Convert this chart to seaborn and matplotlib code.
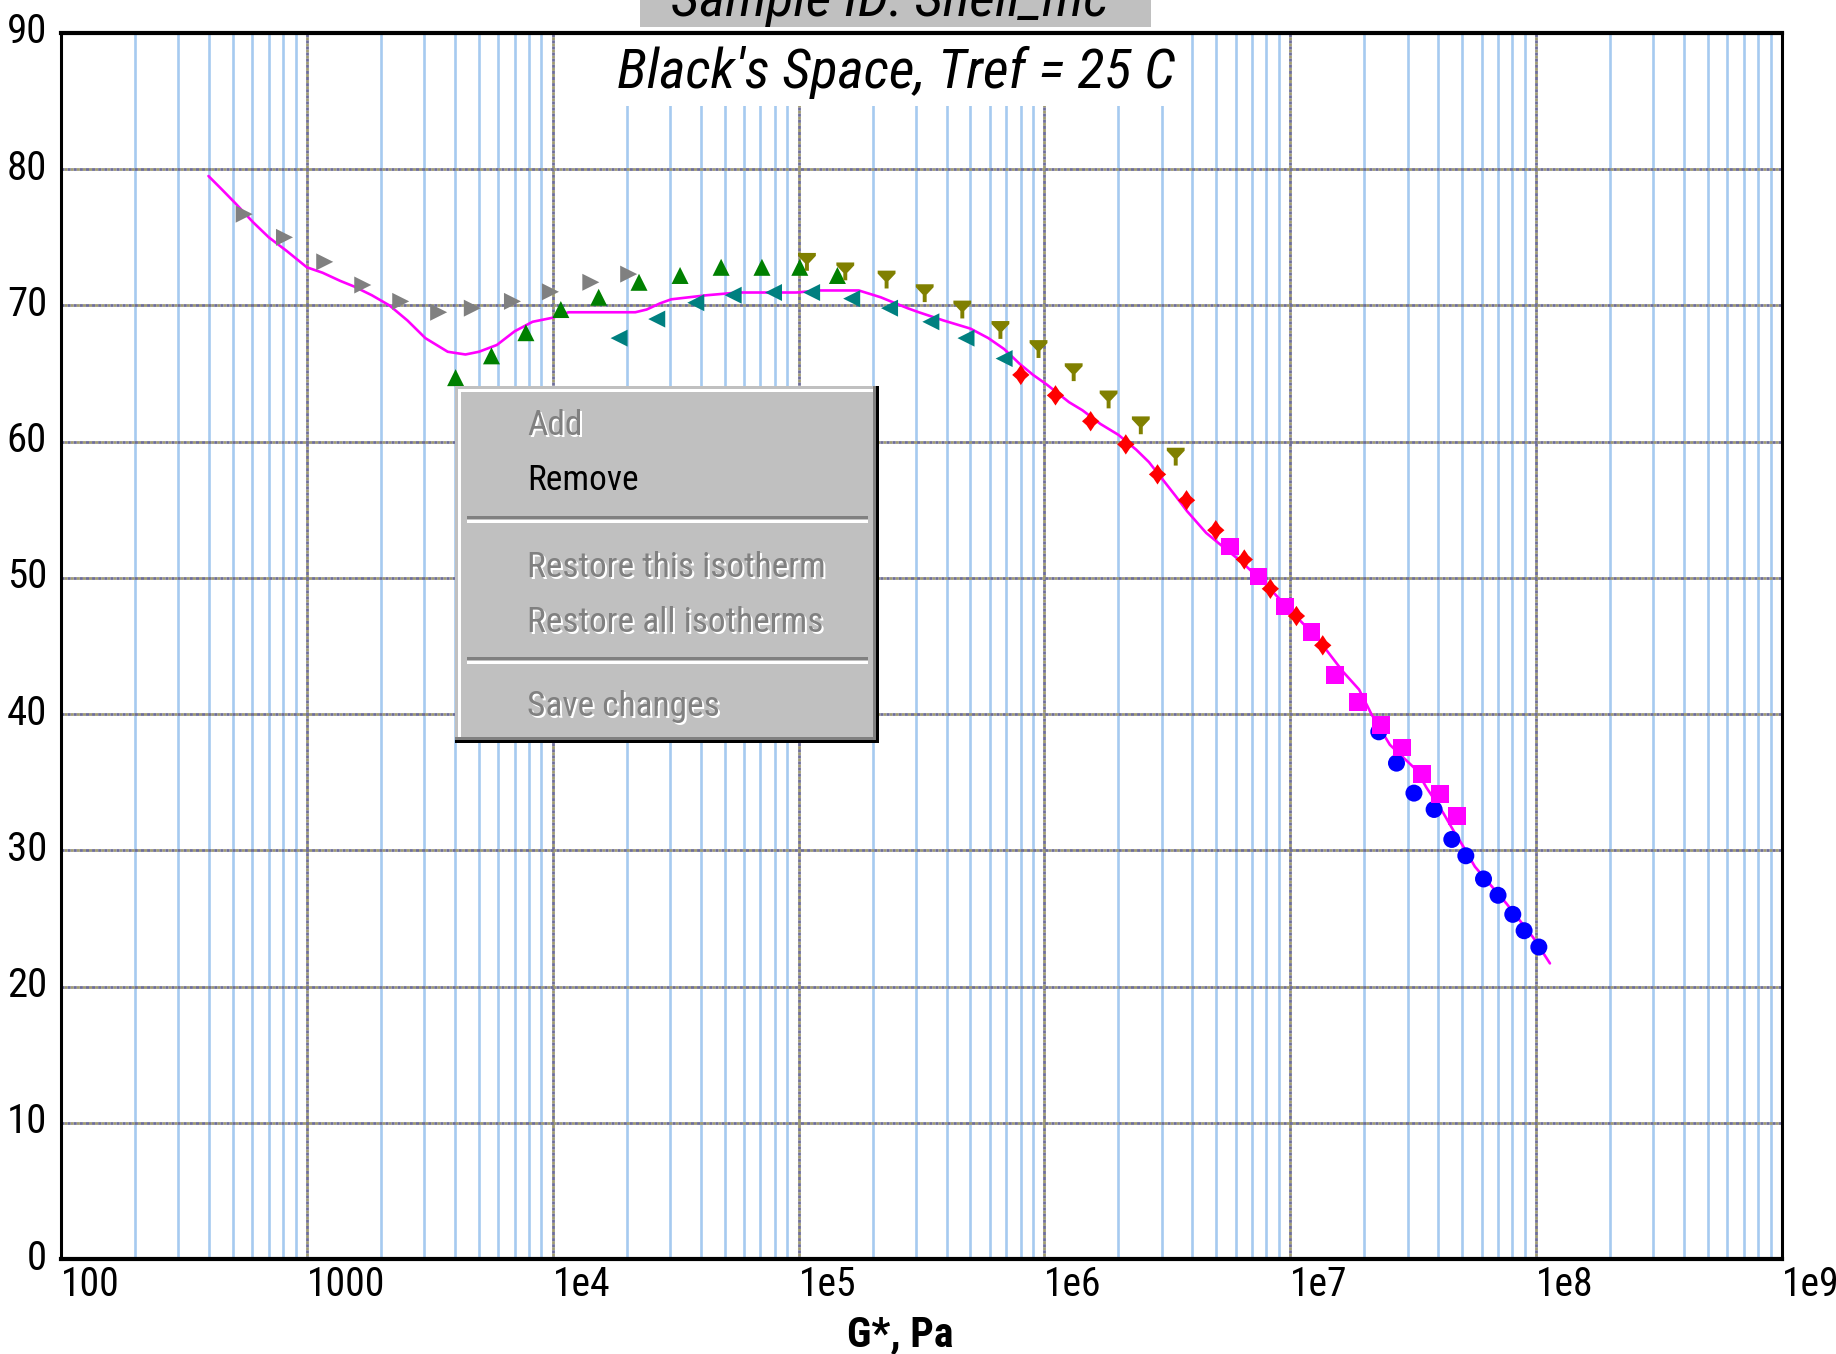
import os
import numpy as np
import pandas as pd
import matplotlib
matplotlib.use("Agg")
import matplotlib.pyplot as plt
from matplotlib import font_manager as fm
from matplotlib.font_manager import FontProperties
from matplotlib.patches import Rectangle
from matplotlib.markers import MarkerStyle
from matplotlib.ticker import LogLocator, NullFormatter
from matplotlib.transforms import ScaledTranslation
import seaborn as sns

# ---------------- data: complex modulus G* (Pa) vs phase angle (deg) ----------------
iso1_g = [556, 811, 1182, 1688, 2409, 3436, 4710, 6860, 9790, 14290, 20370]
iso1_phase = [76.7, 75.0, 73.2, 71.5, 70.3, 69.5, 69.8, 70.3, 71.0, 71.7, 72.3]

iso2_g = [4027, 5636, 7780, 10790, 15380, 22440, 32960, 48420, 70960, 101150, 143880]
iso2_phase = [64.7, 66.3, 68.0, 69.7, 70.6, 71.7, 72.2, 72.8, 72.8, 72.8, 72.2]

iso3_g = [18620, 26490, 38190, 54200, 79070, 112980, 164440, 234420, 345140, 479730, 685490]
iso3_phase = [67.6, 69.0, 70.2, 70.75, 70.95, 70.95, 70.5, 69.8, 68.8, 67.6, 66.1]

iso4_g = [108140, 154880, 228030, 325840, 463450, 662210, 946240, 1315200, 1823900, 2466000, 3419800]
iso4_phase = [73.2, 72.5, 71.9, 70.9, 69.7, 68.2, 66.8, 65.1, 63.1, 61.2, 58.9]

iso5_g = [801700, 1109200, 1541700, 2142900, 2884000, 3784400, 4977400, 6501300, 8298000, 10593000, 13552000]
iso5_phase = [64.9, 63.4, 61.5, 59.8, 57.6, 55.7, 53.5, 51.35, 49.2, 47.2, 45.05]

iso6_g = [5.675e6, 7.43e6, 9.484e6, 1.219e7, 1.524e7, 1.888e7, 2.344e7, 2.851e7, 3.436e7, 4.055e7, 4.775e7]
iso6_phase = [52.3, 50.1, 47.9, 46.0, 42.9, 40.9, 39.2, 37.55, 35.6, 34.15, 32.5]

iso7_g = [2.291e7, 2.704e7, 3.184e7, 3.846e7, 4.539e7, 5.176e7, 6.109e7, 6.998e7, 8.035e7, 8.933e7, 1.0257e8]
iso7_phase = [38.7, 36.4, 34.2, 33.0, 30.8, 29.6, 27.9, 26.7, 25.3, 24.1, 22.9]

master_g = [398, 452, 512, 605, 700, 828, 1000, 1159, 1368, 1552,
            1837, 2168, 2564, 3034, 3741, 4416, 5012, 5929, 6998, 8279,
            10000, 11590, 21680, 24100, 27290, 30340, 42360, 56890, 97950, 120800,
            175800, 215800, 277300, 308300, 388200, 500000, 591600, 685500, 794300, 899500,
            1.021e6, 1.259e6, 1.429e6, 1.690e6, 2.000e6, 2.366e6, 2.661e6, 3.126e6, 3.420e6, 3.802e6,
            4.550e6, 5.070e6, 6.310e6, 8.072e6, 1.038e7, 1.285e7, 1.641e7, 1.905e7, 2.138e7, 2.541e7,
            3.258e7, 3.581e7, 4.188e7, 4.592e7, 5.047e7, 5.636e7, 7.568e7, 9.727e7, 1.138e8]
master_phase = [79.5, 78.5, 77.5, 76.1, 75.0, 74.0, 72.8, 72.4, 71.8, 71.4,
                70.75, 70.0, 68.9, 67.6, 66.6, 66.4, 66.6, 67.1, 68.1, 68.8,
                69.1, 69.5, 69.5, 69.7, 70.15, 70.45, 70.75, 70.95, 70.95, 71.1,
                71.1, 70.6, 69.8, 69.5, 68.9, 68.3, 67.6, 66.8, 65.7, 64.9,
                64.2, 62.9, 62.3, 61.3, 60.5, 59.4, 58.5, 56.9, 56.0, 54.9,
                53.3, 52.6, 51.2, 49.4, 47.3, 45.6, 43.1, 41.8, 40.0, 37.75,
                35.9, 34.6, 32.75, 31.5, 30.3, 28.8, 26.1, 23.6, 21.7]

x_ticks = [1e2, 1e3, 1e4, 1e5, 1e6, 1e7, 1e8, 1e9]
x_tick_labels = ["100", "1000", "1e4", "1e5", "1e6", "1e7", "1e8", "1e9"]
y_ticks = [0, 10, 20, 30, 40, 50, 60, 70, 80, 90]

title_text = "Black's Space, Tref = 25 C"
sample_text = "Sample ID: Shell_mc"
x_label = "G*, Pa"
menu_items = ["Add", "Remove", "Restore this isotherm", "Restore all isotherms", "Save changes"]
menu_enabled = [False, True, False, False, False]

# ---------------- style ----------------
sns.set_style("white")
plt.rcParams["font.family"] = ["DejaVu Sans"]
for key in ("text.color", "axes.labelcolor", "xtick.color", "ytick.color"):
    plt.rcParams[key] = "black"


def _file_key(entry):
    return os.path.basename(entry.fname).lower().replace("-", "").replace("_", "").replace(" ", "")


def _weight(entry):
    w = entry.weight
    return w if isinstance(w, (int, float)) else fm.weight_dict.get(w, 400)


def condensed_faces():
    """Find a narrow sans-serif family (regular, italic, bold files) among installed fonts."""
    tiers = ["narrow", "extracondensed", "condensed", "semicondensed"]
    prefixes = ["liberationsans", "notosans", "roboto", "opensans", "dejavusans", "lato", "inter"]
    entries = fm.fontManager.ttflist
    for tier in tiers:
        for prefix in prefixes:
            pool = [e for e in entries
                    if _file_key(e).startswith(prefix + tier)
                    and _file_key(e).endswith((".ttf", ".otf"))]
            if tier == "condensed":
                pool = [e for e in pool if not _file_key(e).startswith(prefix + "condensedsemi")]
            if not pool:
                continue
            upright = [e for e in pool if e.style == "normal"]
            slanted = [e for e in pool if e.style in ("italic", "oblique")]
            if not upright:
                continue
            reg = min(upright, key=lambda e: abs(_weight(e) - 400))
            bold = min(upright, key=lambda e: abs(_weight(e) - 700))
            ital = min(slanted, key=lambda e: abs(_weight(e) - 400)) if slanted else reg
            return {"regular": reg.fname, "bold": bold.fname, "italic": ital.fname}
    return None


faces = condensed_faces()


def font(kind):
    if faces is not None:
        return FontProperties(fname=faces[kind])
    if kind == "bold":
        return FontProperties(family="DejaVu Sans", weight="bold")
    if kind == "italic":
        return FontProperties(family="DejaVu Sans", style="italic")
    return FontProperties(family="DejaVu Sans")


W, H = 1836, 1354
fig = plt.figure(figsize=(W / 100, H / 100), dpi=100)
renderer = fig.canvas.get_renderer()


def fitted(kind, sample, target_w, target_cap, floor=0.8):
    """Font sized so the sample string spans about target_w pixels with caps near target_cap."""
    probe = font(kind)
    probe.set_size(100)
    t = fig.text(0, 0, sample, fontproperties=probe)
    width = t.get_window_extent(renderer).width
    t.remove()
    size_w = 100 * target_w / width
    size_h = target_cap
    fp = font(kind)
    fp.set_size(min(size_h, max(size_w, floor * size_h)))
    return fp


fp_ytick = fitted("regular", "90", 33, 31, floor=0.95)
fp_xtick = fitted("regular", "1000", 69, 30, floor=0.95)
fp_xlabel = fitted("bold", x_label, 109, 30)
fp_title = fitted("italic", title_text, 558, 44)
fp_menu = fitted("regular", "Restore this isotherm", 285, 30, floor=0.85)

ax = fig.add_axes([61 / W, 1 - 1259 / H, (1782 - 61) / W, (1259 - 33) / H])


def fig_rect(x0, y0, x1, y1, color, z):
    """Rectangle given in pixel coordinates measured from the top-left corner."""
    r = Rectangle((x0 / W, 1 - y1 / H), (x1 - x0) / W, (y1 - y0) / H,
                  transform=fig.transFigure, facecolor=color, edgecolor="none", zorder=z)
    fig.add_artist(r)
    return r


# custom marker shapes
funnel = MarkerStyle([(-1, 1), (1, 1), (1, 0.67), (0.22, -0.16), (0.22, -1),
                      (-0.22, -1), (-0.22, -0.16), (-1, 0.67), (-1, 1)])
sparkle = MarkerStyle([(0, 1), (0.4, 0.4), (0.85, 0), (0.4, -0.4), (0, -1),
                       (-0.4, -0.4), (-0.85, 0), (-0.4, 0.4), (0, 1)])

# master curve
master = pd.DataFrame({"G": master_g, "phase": master_phase})
sns.lineplot(data=master, x="G", y="phase", sort=False, estimator=None,
             color="#ff00ff", linewidth=1.9, ax=ax, zorder=2)

series = [
    (iso1_g, iso1_phase, ">", "#808080", 150),
    (iso2_g, iso2_phase, "^", "#008000", 150),
    (iso3_g, iso3_phase, "<", "#008080", 150),
    (iso4_g, iso4_phase, funnel, "#808000", 165),
    (iso7_g, iso7_phase, "o", "#0000ff", 150),
    (iso6_g, iso6_phase, "s", "#ff00ff", 165),
    (iso5_g, iso5_phase, sparkle, "#ff0000", 215),
]
for g, ph, mk, col, size in series:
    df = pd.DataFrame({"G": g, "phase": ph})
    sns.scatterplot(data=df, x="G", y="phase", marker=mk, color=col, s=size,
                    linewidth=0, edgecolor="none", ax=ax, zorder=3, legend=False)

# axes, ticks and grid
ax.set_xscale("log")
ax.set_xlim(1e2, 1e9)
ax.set_ylim(0, 90)
ax.set_xticks(x_ticks, labels=x_tick_labels, ha="left")
ax.xaxis.set_minor_locator(LogLocator(base=10, subs=np.arange(2, 10)))
ax.xaxis.set_minor_formatter(NullFormatter())
ax.set_yticks(y_ticks)
ax.set_xlabel("")
ax.set_ylabel("")
ax.tick_params(which="both", length=0)
ax.tick_params(axis="x", pad=4)
ax.tick_params(axis="y", pad=10)
raise_labels = ScaledTranslation(0, 5 / 100, fig.dpi_scale_trans)
for lbl in ax.get_xticklabels():
    lbl.set_fontproperties(fp_xtick)
for lbl in ax.get_yticklabels():
    lbl.set_fontproperties(fp_ytick)
    lbl.set_transform(lbl.get_transform() + raise_labels)
ax.set_axisbelow(True)
ax.grid(which="minor", axis="x", color="#a6caf0", linewidth=1.9, linestyle="-")
ax.grid(which="major", axis="both", color="#6e6e9a", gapcolor="#a09c72",
        linewidth=2.0, linestyle=(0, (1.1, 1.1)))

for side in ("top", "bottom"):
    ax.spines[side].set_linewidth(3.0)
for side in ("left", "right"):
    ax.spines[side].set_linewidth(2.2)
for sp in ax.spines.values():
    sp.set_color("black")

# title with its white backing
ax.add_patch(Rectangle((0.2876, 0.9405), 0.3673, 0.0595, transform=ax.transAxes,
                       facecolor="white", edgecolor="none", zorder=1))
ax.text(0.4852, 0.9551, title_text, transform=ax.transAxes, ha="center", va="baseline",
        fontproperties=fp_title, zorder=4)

fig.text(900 / W, 1 - 1346 / H, x_label, ha="center", va="baseline",
         fontproperties=fp_xlabel)

# sample id banner at the top edge
fig_rect(640, -5, 1151, 27, "#c0c0c0", 1)
fig.text(890 / W, 1 - 16 / H, sample_text, ha="center", va="baseline",
         fontproperties=fp_title, zorder=2)

# context menu
fig_rect(455, 386, 879, 743, "black", 5)
fig_rect(455, 386, 876, 740, "#808080", 5.1)
fig_rect(455, 386, 873, 737, "#c0c0c0", 5.2)
fig_rect(458, 389, 873, 737, "white", 5.3)
fig_rect(461, 392, 873, 737, "#c0c0c0", 5.4)
for sep_y in (516, 657):
    fig_rect(467, sep_y, 868, sep_y + 3, "#808080", 5.5)
    fig_rect(467, sep_y + 4, 868, sep_y + 7, "white", 5.5)

menu_baselines = [435, 490, 577, 632, 716]
for label, enabled, base in zip(menu_items, menu_enabled, menu_baselines):
    if enabled:
        fig.text(527 / W, 1 - base / H, label, color="black", fontproperties=fp_menu,
                 va="baseline", ha="left", zorder=6)
    else:
        fig.text(529 / W, 1 - (base + 2) / H, label, color="white", fontproperties=fp_menu,
                 va="baseline", ha="left", zorder=6)
        fig.text(527 / W, 1 - base / H, label, color="#808080", fontproperties=fp_menu,
                 va="baseline", ha="left", zorder=6.1)

fig.savefig("out.png", dpi=100)
